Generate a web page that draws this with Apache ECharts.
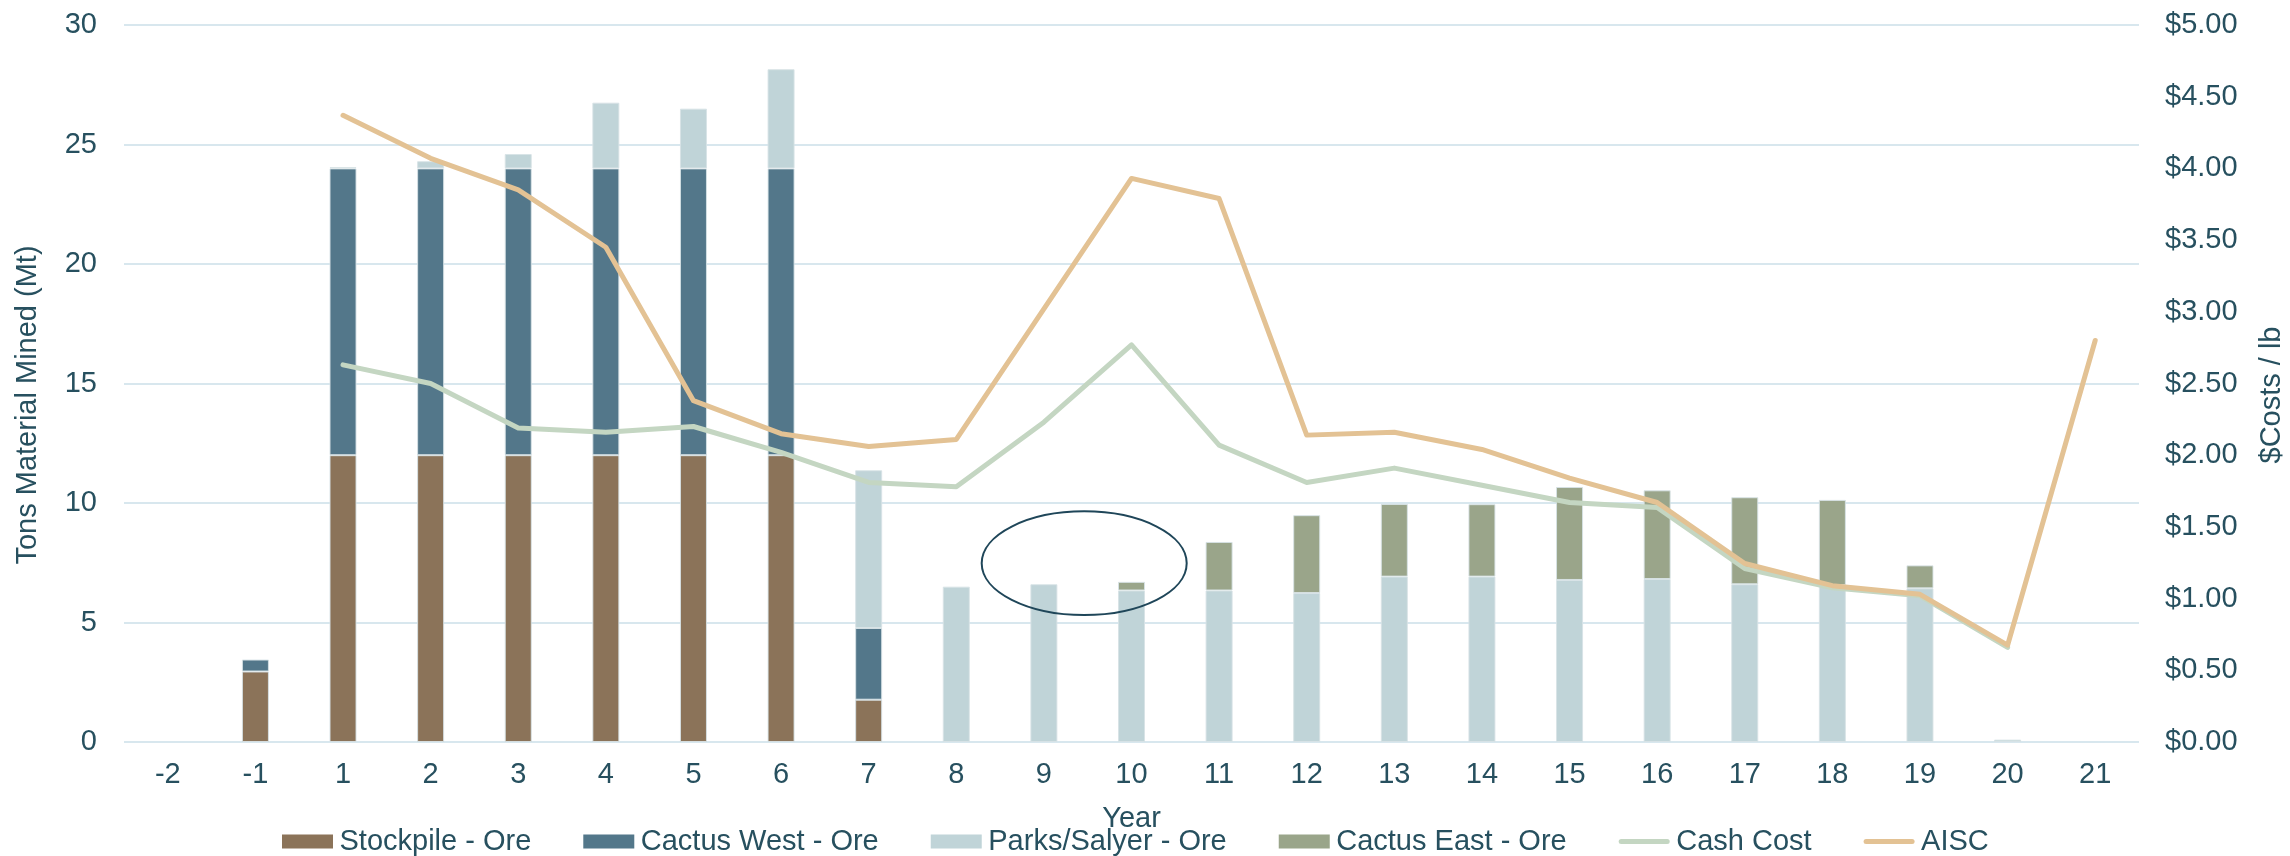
<!DOCTYPE html>
<html>
<head>
<meta charset="utf-8">
<title>Tons Material Mined and Costs per lb by Year</title>
<script src="https://cdn.jsdelivr.net/npm/echarts@6/dist/echarts.min.js"></script>
<style>
  html, body { margin: 0; padding: 0; background: #ffffff; }
  #chart { width: 2290px; height: 856px; }
</style>
</head>
<body>
<div id="chart"></div>
<script>
// Production schedule: categories (years)
const years = ['-2', '-1', '1', '2', '3', '4', '5', '6', '7', '8', '9', '10',
  '11', '12', '13', '14', '15', '16', '17', '18', '19', '20', '21'];

// Ore tonnage by source (Mt)
const stockpileOre = [null, 2.95, 12, 12, 12, 12, 12, 12, 1.77, null, null, null,
  null, null, null, null, null, null, null, null, null, null, null];
const cactusWestOre = [null, 0.5, 12, 12, 12, 12, 12, 12, 3.0, null, null, null,
  null, null, null, null, null, null, null, null, null, null, null];
const parksSalyerOre = [null, null, 0.05, 0.3, 0.6, 2.75, 2.5, 4.15, 6.6, 6.5, 6.6, 6.34,
  6.34, 6.23, 6.92, 6.92, 6.78, 6.82, 6.6, 6.56, 6.43, 0.1, null];
const cactusEastOre = [null, null, null, null, null, null, null, null, null, null, null, 0.36,
  2.03, 3.26, 3.04, 3.03, 3.89, 3.71, 3.64, 3.57, 0.96, null, null];

// Unit costs ($/lb)
const cashCost = [null, null, 2.63, 2.5, 2.19, 2.16, 2.2, 2.02, 1.81, 1.78, 2.23, 2.77,
  2.07, 1.81, 1.91, 1.79, 1.67, 1.635, 1.21, 1.075, 1.02, 0.66, null];
const aisc = [null, null, 4.37, 4.07, 3.85, 3.45, 2.38, 2.15, 2.06, 2.11, 3.02, 3.93,
  3.79, 2.14, 2.16, 2.04, 1.84, 1.67, 1.245, 1.09, 1.03, 0.675, 2.8];

// Axis titles
const leftTitle = 'Tons Material Mined (Mt)';
const rightTitle = '$Costs / lb';
const xTitle = 'Year';

// Callout ring spanning years 9 and 10 (centre value and half-height in Mt)
const calloutYears = ['9', '10'];
const calloutCentre = 7.48;
const calloutHalfHeight = 2.17;

const FONT = "'Liberation Sans', Arial, sans-serif";
const TEXT = '#27505f';
const GRID = '#d8e7ee';

const colors = {
  stockpile: '#8b7359',
  west: '#53778a',
  parks: '#c0d4d8',
  east: '#9aa58a',
  cash: '#c4d6c2',
  aisc: '#e3c294'
};

// Rounded stroke used as the legend key of the two cost lines
const lineKey = 'path://M2.5,0 L48.5,0 A2.5,2.5 0 0 1 48.5,5 L2.5,5 A2.5,2.5 0 0 1 2.5,0 Z';

const chart = echarts.init(document.getElementById('chart'), null, { renderer: 'canvas' });

function barSeries(name, data, color) {
  return {
    name: name,
    type: 'bar',
    stack: 'ore',
    data: data,
    barWidth: 27,
    itemStyle: { color: color, borderColor: 'rgba(215,226,230,0.9)', borderWidth: 1 },
    emphasis: { disabled: true },
    z: 2
  };
}

function lineSeries(name, data, color, z) {
  return {
    name: name,
    type: 'line',
    yAxisIndex: 1,
    data: data,
    symbol: 'none',
    connectNulls: false,
    lineStyle: { color: color, width: 5, cap: 'round', join: 'round' },
    itemStyle: { color: color },
    emphasis: { disabled: true },
    z: z
  };
}

const option = {
  animation: false,
  backgroundColor: '#ffffff',
  textStyle: { fontFamily: FONT, color: TEXT },
  grid: { left: 124, right: 151, top: 25, bottom: 114, containLabel: false },
  legend: {
    top: 822,
    left: 277,
    itemWidth: 51,
    itemHeight: 14,
    itemGap: 52,
    itemStyle: { borderWidth: 0 },
    textStyle: { fontFamily: FONT, fontSize: 29, color: TEXT, padding: [0, 0, 0, 1.5] },
    data: [
      { name: 'Stockpile - Ore', icon: 'rect' },
      { name: 'Cactus West - Ore', icon: 'rect' },
      { name: 'Parks/Salyer - Ore', icon: 'rect' },
      { name: 'Cactus East - Ore', icon: 'rect' },
      { name: 'Cash Cost', icon: lineKey },
      { name: 'AISC', icon: lineKey }
    ]
  },
  xAxis: {
    type: 'category',
    data: years,
    name: xTitle,
    nameLocation: 'middle',
    nameGap: 62,
    nameTextStyle: { fontFamily: FONT, fontSize: 29, color: TEXT },
    axisLine: { show: false },
    axisTick: { show: false },
    axisLabel: { fontFamily: FONT, fontSize: 29, color: TEXT, margin: 18, interval: 0 }
  },
  yAxis: [
    {
      type: 'value',
      min: 0,
      max: 30,
      interval: 5,
      axisLine: { show: false },
      axisTick: { show: false },
      axisLabel: { fontFamily: FONT, fontSize: 29, color: TEXT, margin: 27 },
      splitLine: { lineStyle: { color: GRID, width: 2 } }
    },
    {
      type: 'value',
      min: 0,
      max: 5,
      interval: 0.5,
      position: 'right',
      axisLine: { show: false },
      axisTick: { show: false },
      axisLabel: {
        fontFamily: FONT, fontSize: 29, color: TEXT, margin: 26,
        formatter: function (v) { return '$' + v.toFixed(2); }
      },
      splitLine: { show: false }
    }
  ],
  series: [
    barSeries('Stockpile - Ore', stockpileOre, colors.stockpile),
    barSeries('Cactus West - Ore', cactusWestOre, colors.west),
    barSeries('Parks/Salyer - Ore', parksSalyerOre, colors.parks),
    barSeries('Cactus East - Ore', cactusEastOre, colors.east),
    lineSeries('Cash Cost', cashCost, colors.cash, 3),
    lineSeries('AISC', aisc, colors.aisc, 4)
  ]
};

chart.setOption(option);

// Vertical axis titles and the ring highlighting years 9-10
function drawOverlays() {
  const a = chart.convertToPixel({ xAxisIndex: 0, yAxisIndex: 0 }, [calloutYears[0], calloutCentre]);
  const b = chart.convertToPixel({ xAxisIndex: 0, yAxisIndex: 0 }, [calloutYears[1], calloutCentre]);
  const top = chart.convertToPixel({ xAxisIndex: 0, yAxisIndex: 0 }, [calloutYears[0], calloutCentre + calloutHalfHeight]);
  const step = b[0] - a[0];
  const titleStyle = { fill: TEXT, font: '29px ' + FONT, align: 'center', verticalAlign: 'middle' };
  chart.setOption({
    graphic: [
      {
        type: 'text', id: 'leftTitle', x: 28, y: 405, rotation: Math.PI / 2, silent: true,
        style: Object.assign({ text: leftTitle }, titleStyle)
      },
      {
        type: 'text', id: 'rightTitle', x: 2272, y: 395, rotation: Math.PI / 2, silent: true,
        style: Object.assign({ text: rightTitle }, titleStyle)
      },
      {
        type: 'ellipse',
        id: 'callout',
        shape: { cx: a[0] + step * 0.46, cy: a[1], rx: step * 1.17, ry: a[1] - top[1] },
        style: { fill: 'none', stroke: '#1f4659', lineWidth: 2 },
        z: 10,
        silent: true
      }
    ]
  });
}
drawOverlays();
</script>
</body>
</html>
